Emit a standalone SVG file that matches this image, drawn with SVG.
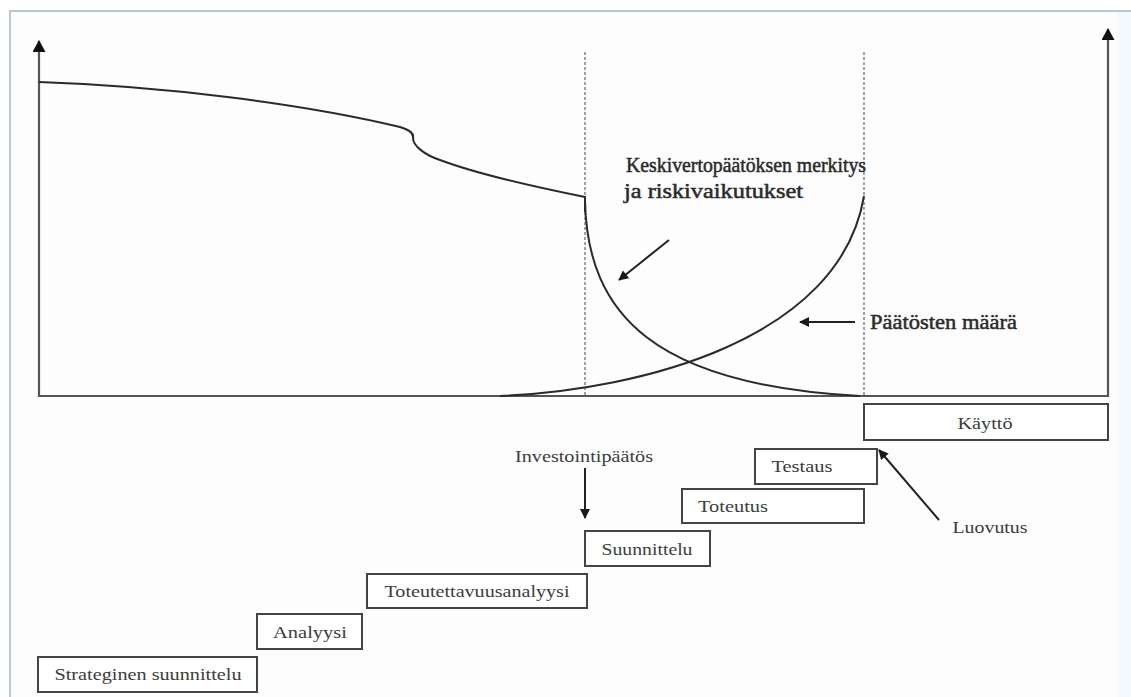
<svg xmlns="http://www.w3.org/2000/svg" width="1131" height="697" viewBox="0 0 1131 697">
  <defs>
    <marker id="arr" viewBox="0 0 10 10" refX="9" refY="5" markerWidth="11" markerHeight="10" markerUnits="userSpaceOnUse" orient="auto">
      <path d="M0,0 L10,5 L0,10 z" fill="#1a1a1a"/>
    </marker>
    <marker id="axisArr" viewBox="0 0 12 13" refX="11" refY="6.5" markerWidth="12" markerHeight="13" markerUnits="userSpaceOnUse" orient="auto">
      <path d="M0,0 L12,6.5 L0,13 z" fill="#111"/>
    </marker>
  </defs>
  <style>
    .bg { fill: #fdfdfd; }
    .frame { fill: none; stroke: #b6c8d1; stroke-width: 2; }
    .axis { fill: none; stroke: #555; stroke-width: 2.2; }
    .curve { fill: none; stroke: #2a2a2a; stroke-width: 2; }
    .dash { fill: none; stroke: #666; stroke-width: 1.2; stroke-dasharray: 3 2; }
    .ptr { fill: none; stroke: #222; stroke-width: 2; marker-end: url(#arr); }
    .box { fill: #ffffff; stroke: #444; stroke-width: 2; }
    .lbl { font-family: "Liberation Serif", "DejaVu Serif", "Times New Roman", serif; font-size: 17px; fill: #3c3c3c; text-anchor: middle; }
    .big { font-family: "Liberation Serif", "DejaVu Serif", "Times New Roman", serif; font-size: 21px; fill: #2a2a2a; stroke: #2a2a2a; stroke-width: 0.5; }
  </style>

  <rect x="0" y="0" width="1131" height="697" fill="#ffffff"/>
  <rect class="bg" x="10" y="11" width="1121" height="690"/>
  <path class="frame" d="M10,697 L10,11 L1131,11"/>
  <rect x="1118" y="12" width="13" height="685" fill="#f3f9fc"/>

  <!-- chart axes, curves and pointers -->
  <g id="connectors">
    <line class="axis" x1="39" y1="397" x2="39" y2="41" marker-end="url(#axisArr)"/>
    <line class="axis" x1="1108" y1="397" x2="1108" y2="29" marker-end="url(#axisArr)"/>
    <line class="axis" x1="38" y1="396" x2="1109" y2="396"/>

    <line class="dash" x1="585" y1="52" x2="585" y2="396"/>
    <line class="dash" x1="864" y1="52" x2="864" y2="396"/>

    <!-- falling curve with a kink, then vertical drop at the decision line -->
    <path class="curve" d="M39,82 C160,86 300,103 400,127 C410,130 414,133 413,138 C413,146 425,155 440,160 C480,175 540,188 585,197 L585,212"/>
    <!-- decreasing curve -->
    <path class="curve" d="M585,200 C587,315 655,385 860,396"/>
    <!-- increasing curve -->
    <path class="curve" d="M500,396 C640,390 840,340 864,196"/>

    <line class="ptr" x1="669" y1="240" x2="619" y2="280"/>
    <line class="ptr" x1="855" y1="322" x2="800" y2="322"/>
    <line class="ptr" x1="585" y1="468" x2="585" y2="518"/>
    <line class="ptr" x1="939" y1="520" x2="879" y2="450"/>
  </g>

  <g id="label-keskivertopaatos">
    <text class="big" x="626" y="172" textLength="240" lengthAdjust="spacingAndGlyphs">Keskivertopäätöksen merkitys</text>
    <text class="big" x="624" y="198" textLength="179" lengthAdjust="spacingAndGlyphs">ja riskivaikutukset</text>
  </g>
  <g id="label-paatosten-maara">
    <text class="big" x="870" y="329" textLength="147" lengthAdjust="spacingAndGlyphs">Päätösten määrä</text>
  </g>
  <g id="label-investointipaatos">
    <text class="lbl" x="584" y="462" textLength="138" lengthAdjust="spacingAndGlyphs">Investointipäätös</text>
  </g>
  <g id="label-luovutus">
    <text class="lbl" x="990" y="533" textLength="75" lengthAdjust="spacingAndGlyphs">Luovutus</text>
  </g>

  <g id="phase-kaytto">
    <rect class="box" x="864" y="404" width="244" height="36"/>
    <text class="lbl" x="985" y="429" textLength="55" lengthAdjust="spacingAndGlyphs">Käyttö</text>
  </g>
  <g id="phase-testaus">
    <rect class="box" x="755" y="449" width="122" height="35"/>
    <text class="lbl" x="802" y="472" textLength="61" lengthAdjust="spacingAndGlyphs">Testaus</text>
  </g>
  <g id="phase-toteutus">
    <rect class="box" x="682" y="489" width="182" height="34"/>
    <text class="lbl" x="733" y="512" textLength="70" lengthAdjust="spacingAndGlyphs">Toteutus</text>
  </g>
  <g id="phase-suunnittelu">
    <rect class="box" x="585" y="531" width="125" height="35"/>
    <text class="lbl" x="647" y="555" textLength="91" lengthAdjust="spacingAndGlyphs">Suunnittelu</text>
  </g>
  <g id="phase-toteutettavuusanalyysi">
    <rect class="box" x="367" y="574" width="220" height="34"/>
    <text class="lbl" x="477" y="597" textLength="185" lengthAdjust="spacingAndGlyphs">Toteutettavuusanalyysi</text>
  </g>
  <g id="phase-analyysi">
    <rect class="box" x="257" y="614" width="105" height="35"/>
    <text class="lbl" x="310" y="638" textLength="74" lengthAdjust="spacingAndGlyphs">Analyysi</text>
  </g>
  <g id="phase-strateginen">
    <rect class="box" x="38" y="657" width="219" height="35"/>
    <text class="lbl" x="148" y="680" textLength="187" lengthAdjust="spacingAndGlyphs">Strateginen suunnittelu</text>
  </g>
</svg>
